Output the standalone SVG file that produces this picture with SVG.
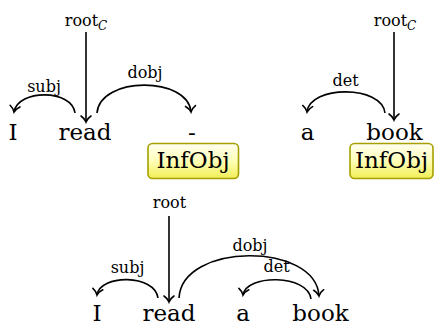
<svg xmlns="http://www.w3.org/2000/svg" width="436" height="326" viewBox="0 0 436 326">
<style>
text{font-family:'DejaVu Serif',serif;fill:#000;text-anchor:middle}
.w{font-size:23px}
.l{font-size:16px}
.sub{font-style:italic;font-size:12px}
.e{fill:none;stroke:#000;stroke-width:1.6;marker-end:url(#arr)}
.box{fill:url(#yg);stroke:#a5a000;stroke-width:1.6}
</style>
<defs>
<marker id="arr" markerUnits="userSpaceOnUse" markerWidth="14" markerHeight="14" viewBox="-8 -7 10 14" refX="0" refY="0" orient="auto" overflow="visible">
<path d="M-6,-5 C-4,-2 -1.5,-0.6 0,0 C-1.5,0.6 -4,2 -6,5" fill="none" stroke="#000" stroke-width="1.6" stroke-linecap="round"/>
</marker>
<linearGradient id="yg" x1="0" y1="0" x2="0" y2="1">
<stop offset="0" stop-color="#fffff2"/>
<stop offset="0.5" stop-color="#ffffb8"/>
<stop offset="1" stop-color="#f2ee55"/>
</linearGradient>
</defs>
<g id="connectors">
<path class="e" d="M86,32 L86,122"/>
<path class="e" d="M75,113 C72,89 18,89 14,112"/>
<path class="e" d="M97,113 C100,76 188,76 191,112"/>
<path class="e" d="M394,32 L394,120"/>
<path class="e" d="M385,113 C382,85 310,85 307,112"/>
<path class="e" d="M169,216 L169,302"/>
<path class="e" d="M158,298 C155,274 100,274 97,295"/>
<path class="e" d="M179,298 C182,242 316,242 319,296"/>
<path class="e" d="M311,299 C308,274 246,274 243,295"/>
</g>
<g id="sent1">
<g id="s1-root"><text class="l" x="86" y="26">root<tspan class="sub" dy="4">C</tspan></text></g>
<g id="s1-I"><text class="w" x="13" y="140">I</text></g>
<g id="s1-read"><text class="w" x="85" y="140">read</text></g>
<g id="s1-dash"><text class="w" x="192" y="140">-</text></g>
<g id="s1-infobj"><rect class="box" x="148" y="143.5" width="90.5" height="35" rx="4.5"/><text class="w" x="193" y="168">InfObj</text></g>
<text class="l" x="44" y="92">subj</text>
<text class="l" x="145" y="78">dobj</text>
</g>
<g id="sent2">
<g id="s2-root"><text class="l" x="395" y="26">root<tspan class="sub" dy="4">C</tspan></text></g>
<g id="s2-a"><text class="w" x="307.5" y="140">a</text></g>
<g id="s2-book"><text class="w" x="394.5" y="140">book</text></g>
<g id="s2-infobj"><rect class="box" x="350" y="143.5" width="83" height="35" rx="4.5"/><text class="w" x="391.5" y="168">InfObj</text></g>
<text class="l" x="345.5" y="86">det</text>
</g>
<g id="sent3">
<g id="s3-root"><text class="l" x="169.5" y="208">root</text></g>
<g id="s3-I"><text class="w" x="97" y="321">I</text></g>
<g id="s3-read"><text class="w" x="169" y="321">read</text></g>
<g id="s3-a"><text class="w" x="243" y="321">a</text></g>
<g id="s3-book"><text class="w" x="320.5" y="321">book</text></g>
<text class="l" x="127.5" y="273">subj</text>
<text class="l" x="250" y="251">dobj</text>
<text class="l" x="276.5" y="272">det</text>
</g>
</svg>
